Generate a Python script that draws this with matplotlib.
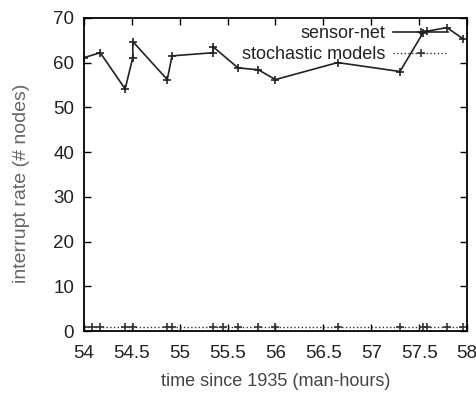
import numpy as np
import matplotlib.pyplot as plt

plt.rcParams['font.family'] = ['Liberation Sans', 'DejaVu Sans']

# sensor-net series
t_sensor = [54.0, 54.17, 54.43, 54.51, 54.51, 54.87, 54.92, 55.35, 55.35,
            55.61, 55.82, 56.0, 56.65, 57.3, 57.54, 57.58, 57.79, 57.96]
v_sensor = [61.1, 62.2, 54.1, 61.1, 64.7, 56.2, 61.5, 62.2, 63.5,
            58.8, 58.4, 56.2, 60.0, 58.0, 66.6, 67.0, 67.8, 65.3]

# stochastic models series (flat near zero)
t_stoch = [54.0, 54.08, 54.17, 54.43, 54.51, 54.87, 54.92, 55.35, 55.45,
           55.61, 55.82, 56.0, 56.65, 57.3, 57.54, 57.58, 57.79, 57.96]
v_stoch = [0.9, 0.9, 0.9, 0.9, 0.9, 0.9, 0.9, 0.9, 0.9,
           0.9, 0.9, 0.9, 0.9, 0.9, 0.9, 0.9, 0.9, 0.9]

xticks = [54, 54.5, 55, 55.5, 56, 56.5, 57, 57.5, 58]
xtick_labels = ['54', '54.5', '55', '55.5', '56', '56.5', '57', '57.5', '58']
yticks = [0, 10, 20, 30, 40, 50, 60, 70]

fig = plt.figure(figsize=(4.77, 3.96), dpi=100)
ax = fig.add_axes([0.176, 0.164, 0.803, 0.791])

ax.plot(t_sensor, v_sensor, color='#222222', lw=1.2, marker='+', ms=6,
        mew=1.2, label='sensor-net')
ax.plot(t_stoch, v_stoch, color='#333333', lw=1.0, ls=':', marker='+', ms=6,
        mew=1.2, label='stochastic models')

ax.set_xlim(54, 58)
ax.set_ylim(0, 70)
ax.set_xticks(xticks)
ax.set_xticklabels(xtick_labels)
ax.set_yticks(yticks)
ax.tick_params(direction='in', top=True, right=True, length=5, width=1,
               labelsize=13.5, labelcolor='#222222')
ax.tick_params(axis='x', pad=10)
ax.tick_params(axis='y', pad=7)
for s in ax.spines.values():
    s.set_linewidth(1.3)

ax.set_xlabel('time since 1935 (man-hours)', fontsize=13, color='#444444')
ax.xaxis.set_label_coords(0.5, -0.135)
ax.set_ylabel('interrupt rate (# nodes)', fontsize=14, color='#666666')
ax.yaxis.set_label_coords(-0.14, 0.473)

ax.legend(loc='upper right', bbox_to_anchor=(0.973, 1.005), frameon=False,
          markerfirst=False, fontsize=13, handlelength=3.0,
          borderaxespad=0.1, labelspacing=0.22, handletextpad=0.45,
          labelcolor='#222222')

fig.savefig('out.png', dpi=100)
